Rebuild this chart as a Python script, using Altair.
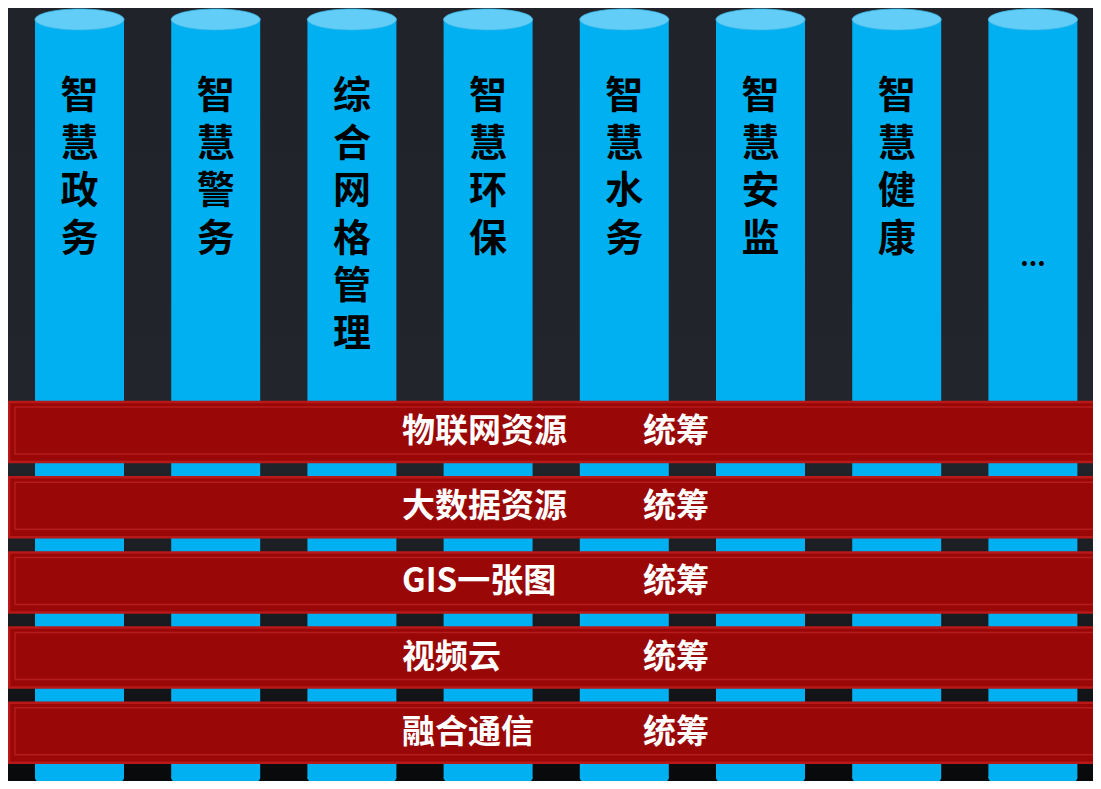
import altair as alt
import pandas as pd

# ---- content ----
columns = ["智慧政务", "智慧警务", "综合网格管理", "智慧环保", "智慧水务", "智慧安监", "智慧健康", "..."]
layers = ["物联网资源", "大数据资源", "GIS一张图", "视频云", "融合通信"]
layer_suffix = ["统筹", "统筹", "统筹", "统筹", "统筹"]

# ---- layout (pixels of the plot area) ----
W, H = 1085, 773
COL0, COL_STEP, HALF_W = 71.5, 136.2, 44.5
TOP_Y, BOT_Y, RY = 11.5, 770.0, 10.5
BAR0, BAR_STEP, BAR_HALF = 424.0, 75.2, 30.0
CHAR0, CHAR_STEP = 87.0, 47.5
FONT = "Noto Sans CJK SC"

xs = alt.Scale(domain=[0, W], nice=False, zero=False)
ys = alt.Scale(domain=[0, H], nice=False, zero=False, reverse=True)
X = lambda f: alt.X(f, type="quantitative", scale=xs, axis=None)
Y = lambda f: alt.Y(f, type="quantitative", scale=ys, axis=None)

pillars = pd.DataFrame({
    "name": columns,
    "cx": [COL0 + COL_STEP * i for i in range(len(columns))],
})
pillars["x1"] = pillars["cx"] - HALF_W
pillars["x2"] = pillars["cx"] + HALF_W
pillars["top"] = TOP_Y
pillars["bot"] = BOT_Y

labels = pillars[pillars["name"] != "..."].copy()
labels["lines"] = [list(n) for n in labels["name"]]
labels["by"] = CHAR0 + 13.0

dots = pillars[pillars["name"] == "..."].copy()
dots["cy"] = 250.0

bars = pd.DataFrame({
    "label": layers,
    "suffix": layer_suffix,
    "cy": [BAR0 + BAR_STEP * j for j in range(len(layers))],
})
bars["y1"] = bars["cy"] - BAR_HALF
bars["y2"] = bars["cy"] + BAR_HALF
bars["iy1"] = bars["y1"] + 5
bars["iy2"] = bars["y2"] - 8
bars["x1"] = 1.0
bars["x2"] = W + 6.0
bars["ix1"] = 7.0
bars["ix2"] = W + 6.0
bars["lx"] = 394.0
bars["sx"] = 635.0

bg = alt.Chart(pd.DataFrame({"a": [0]})).mark_rect(
    color=alt.Gradient(
        gradient="linear", x1=0, x2=0, y1=0, y2=1,
        stops=[
            alt.GradientStop(color="#202329", offset=0),
            alt.GradientStop(color="#22252b", offset=0.55),
            alt.GradientStop(color="#16181c", offset=0.85),
            alt.GradientStop(color="#08090b", offset=1),
        ],
    )
).encode(x=alt.value(0), x2=alt.value(W), y=alt.value(0), y2=alt.value(H))

ell = "M-1,0A1,0.236,0,1,1,1,0A1,0.236,0,1,1,-1,0Z"
size = (2 * HALF_W) ** 2

body = alt.Chart(pillars).mark_rect(color="#00b0f0").encode(
    x=X("x1"), x2="x2", y=Y("top"), y2="bot"
)
bottom_cap = alt.Chart(pillars).mark_point(
    shape=ell, filled=True, size=size, color="#00b0f0", opacity=1
).encode(x=X("cx"), y=Y("bot"))
top_cap = alt.Chart(pillars).mark_point(
    shape=ell, filled=True, size=size, fill="#62cdf6", opacity=1,
    stroke="#3bb9ea", strokeWidth=0.8
).encode(x=X("cx"), y=Y("top"))

char_text = alt.Chart(labels).mark_text(
    font=FONT, fontSize=38, fontWeight="bold", color="#000000",
    baseline="alphabetic", align="center", lineHeight=CHAR_STEP
).encode(x=X("cx"), y=Y("by"), text="lines")
dots_text = alt.Chart(dots).mark_text(
    font=FONT, fontSize=26, fontWeight="bold", color="#000000", baseline="middle", align="center"
).encode(x=X("cx"), y=Y("cy"), text="name")

bar_rect = alt.Chart(bars).mark_rect(
    fill="#9a0707", stroke="#b81818", strokeWidth=2.5
).encode(x=X("x1"), x2="x2", y=Y("y1"), y2="y2")
bar_inner = alt.Chart(bars).mark_rect(
    filled=False, stroke="#b51c1c", strokeWidth=1.5
).encode(x=X("ix1"), x2="ix2", y=Y("iy1"), y2="iy2")
bar_label = alt.Chart(bars).mark_text(
    font=FONT, fontSize=33, fontWeight="bold", color="#ffffff", baseline="middle", align="left"
).encode(x=X("lx"), y=Y("cy"), text="label")
bar_suffix = alt.Chart(bars).mark_text(
    font=FONT, fontSize=33, fontWeight="bold", color="#ffffff", baseline="middle", align="left"
).encode(x=X("sx"), y=Y("cy"), text="suffix")

chart = alt.layer(
    bg, body, bottom_cap, top_cap, char_text, dots_text,
    bar_rect, bar_inner, bar_label, bar_suffix
).properties(
    width=W, height=H, padding=0, autosize="none", background="#1e2126"
).configure_view(stroke=None)

chart.save("out.html", embed_options={"renderer": "svg", "actions": False})
